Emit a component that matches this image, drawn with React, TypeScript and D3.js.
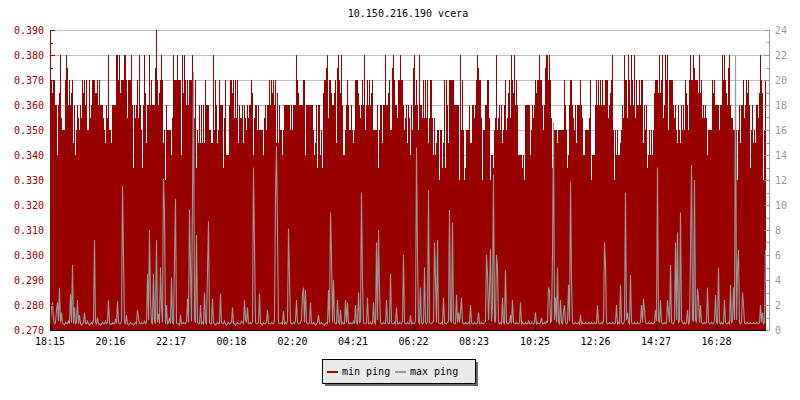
import React, { useMemo } from "react";
import * as d3 from "d3";

const TITLE = "10.150.216.190 vcera";
const SERIES_NAMES = ["min ping", "max ping"];
const SERIES_COLORS = ["#990000", "#999999"];
const START_TIME = "18:15";
const STEP_MINUTES = 2;
const TIME_LABELS = ["18:15", "20:16", "22:17", "00:18", "02:20", "04:21", "06:22", "08:23", "10:25", "12:26", "14:27", "16:28"];
const LEFT_TICKS = [0.27, 0.28, 0.29, 0.3, 0.31, 0.32, 0.33, 0.34, 0.35, 0.36, 0.37, 0.38, 0.39];
const RIGHT_TICKS = [0, 2, 4, 6, 8, 10, 12, 14, 16, 18, 20, 22, 24];

const minPing = [
  0.350,0.370,0.365,0.370,0.370,0.360,0.360,0.340,0.360,0.365,
  0.380,0.355,0.350,0.350,0.350,0.370,0.380,0.375,0.360,0.370,
  0.360,0.365,0.370,0.345,0.360,0.340,0.350,0.360,0.355,0.350,
  0.360,0.355,0.370,0.365,0.370,0.360,0.370,0.350,0.350,0.370,
  0.355,0.360,0.370,0.370,0.370,0.365,0.365,0.370,0.360,0.370,
  0.360,0.360,0.360,0.355,0.350,0.345,0.360,0.355,0.380,0.350,
  0.350,0.345,0.360,0.360,0.360,0.360,0.380,0.380,0.370,0.380,
  0.365,0.370,0.370,0.370,0.380,0.380,0.370,0.355,0.370,0.370,
  0.370,0.380,0.360,0.335,0.360,0.355,0.360,0.370,0.355,0.380,
  0.360,0.350,0.335,0.360,0.380,0.365,0.345,0.360,0.360,0.380,
  0.360,0.370,0.360,0.360,0.360,0.375,0.390,0.370,0.360,0.365,
  0.370,0.380,0.370,0.345,0.350,0.330,0.360,0.350,0.350,0.350,

  0.350,0.340,0.355,0.380,0.370,0.370,0.370,0.380,0.370,0.370,
  0.370,0.340,0.380,0.365,0.380,0.370,0.360,0.370,0.360,0.370,
  0.370,0.370,0.380,0.355,0.355,0.370,0.335,0.350,0.345,0.360,
  0.345,0.360,0.345,0.360,0.345,0.370,0.360,0.360,0.360,0.350,
  0.350,0.345,0.345,0.380,0.350,0.370,0.360,0.345,0.350,0.370,
  0.360,0.360,0.360,0.335,0.355,0.370,0.340,0.340,0.340,0.360,
  0.370,0.370,0.365,0.370,0.355,0.370,0.355,0.370,0.345,0.360,
  0.355,0.355,0.360,0.345,0.360,0.355,0.350,0.360,0.355,0.360,
  0.360,0.370,0.365,0.340,0.355,0.360,0.360,0.350,0.360,0.350,
  0.350,0.350,0.350,0.340,0.355,0.360,0.350,0.360,0.360,0.370,
  0.360,0.370,0.365,0.370,0.360,0.370,0.345,0.365,0.345,0.360,
  0.350,0.350,0.340,0.350,0.360,0.360,0.360,0.360,0.360,0.360,

  0.350,0.360,0.350,0.360,0.360,0.360,0.380,0.370,0.365,0.360,
  0.360,0.360,0.360,0.370,0.370,0.340,0.360,0.360,0.360,0.360,
  0.360,0.360,0.360,0.350,0.340,0.345,0.360,0.335,0.360,0.360,
  0.340,0.350,0.335,0.365,0.370,0.370,0.375,0.380,0.355,0.370,
  0.370,0.365,0.360,0.360,0.365,0.370,0.345,0.375,0.380,0.370,
  0.365,0.380,0.360,0.340,0.340,0.350,0.360,0.370,0.360,0.350,
  0.350,0.360,0.350,0.345,0.350,0.370,0.370,0.370,0.365,0.360,
  0.355,0.360,0.370,0.360,0.380,0.350,0.360,0.370,0.360,0.370,
  0.360,0.365,0.370,0.350,0.350,0.350,0.350,0.360,0.335,0.350,
  0.360,0.360,0.345,0.360,0.360,0.380,0.360,0.360,0.365,0.370,
  0.350,0.350,0.375,0.380,0.370,0.360,0.360,0.355,0.370,0.370,
  0.380,0.370,0.370,0.360,0.350,0.355,0.360,0.345,0.360,0.355,

  0.340,0.360,0.350,0.375,0.380,0.360,0.370,0.360,0.350,0.380,
  0.360,0.360,0.355,0.370,0.355,0.370,0.355,0.370,0.345,0.355,
  0.370,0.370,0.355,0.340,0.355,0.340,0.345,0.350,0.350,0.330,
  0.350,0.350,0.335,0.345,0.370,0.335,0.370,0.360,0.345,0.370,
  0.370,0.370,0.370,0.370,0.360,0.360,0.360,0.360,0.360,0.330,
  0.380,0.350,0.370,0.350,0.330,0.335,0.350,0.350,0.350,0.360,
  0.345,0.345,0.360,0.360,0.355,0.360,0.370,0.380,0.375,0.370,
  0.370,0.355,0.330,0.350,0.350,0.360,0.360,0.370,0.370,0.355,
  0.330,0.340,0.340,0.335,0.350,0.355,0.380,0.350,0.355,0.360,
  0.350,0.360,0.345,0.350,0.360,0.370,0.350,0.355,0.365,0.370,
  0.355,0.380,0.370,0.365,0.380,0.360,0.370,0.360,0.340,0.340,
  0.340,0.340,0.335,0.340,0.330,0.360,0.360,0.360,0.360,0.360,

  0.340,0.350,0.360,0.355,0.360,0.370,0.365,0.370,0.370,0.380,
  0.370,0.370,0.360,0.350,0.360,0.375,0.380,0.380,0.370,0.380,
  0.370,0.355,0.335,0.340,0.350,0.350,0.350,0.345,0.350,0.350,
  0.350,0.350,0.350,0.350,0.370,0.360,0.350,0.335,0.340,0.360,
  0.370,0.370,0.360,0.355,0.350,0.360,0.345,0.360,0.360,0.360,
  0.370,0.360,0.355,0.340,0.340,0.350,0.350,0.350,0.350,0.355,
  0.370,0.330,0.340,0.340,0.340,0.360,0.370,0.360,0.370,0.360,
  0.370,0.360,0.370,0.360,0.360,0.370,0.370,0.370,0.355,0.360,
  0.365,0.370,0.380,0.350,0.330,0.350,0.340,0.350,0.340,0.340,
  0.345,0.350,0.360,0.355,0.380,0.370,0.370,0.355,0.380,0.370,
  0.360,0.380,0.370,0.360,0.380,0.355,0.370,0.360,0.360,0.370,
  0.360,0.370,0.370,0.345,0.360,0.350,0.360,0.335,0.340,0.350,

  0.340,0.350,0.340,0.350,0.365,0.370,0.370,0.370,0.365,0.380,
  0.365,0.370,0.380,0.355,0.360,0.380,0.370,0.380,0.350,0.370,
  0.370,0.370,0.370,0.360,0.355,0.360,0.350,0.345,0.360,0.350,
  0.345,0.360,0.350,0.360,0.350,0.370,0.365,0.360,0.350,0.370,
  0.380,0.370,0.370,0.380,0.375,0.370,0.370,0.370,0.365,0.380,
  0.365,0.370,0.355,0.360,0.355,0.360,0.355,0.340,0.350,0.350,
  0.350,0.350,0.370,0.365,0.370,0.360,0.360,0.360,0.360,0.350,
  0.360,0.360,0.380,0.370,0.380,0.370,0.365,0.360,0.375,0.380,
  0.360,0.355,0.355,0.350,0.350,0.350,0.350,0.330,0.350,0.360,
  0.345,0.360,0.360,0.370,0.355,0.360,0.370,0.365,0.370,0.360,
  0.335,0.350,0.360,0.345,0.350,0.345,0.360,0.360,0.355,0.365,
  0.380,0.370,0.365,0.330,0.350,0.370,
];

const maxPing = [
  0.6,1.8,2.2,0.9,0.5,0.6,1.6,2.2,0.7,3.4,
  0.6,1.4,0.5,0.5,0.4,0.6,0.5,0.5,0.7,0.5,
  2.9,0.6,5.2,0.5,1.8,0.5,0.6,2.4,0.5,1.2,
  0.5,0.4,0.5,0.6,1.4,0.5,0.5,0.7,0.5,0.4,
  0.5,0.6,0.5,0.8,7.2,0.6,0.5,1.0,0.5,0.5,
  0.4,0.5,0.6,0.5,0.5,0.7,0.5,0.6,2.4,0.5,
  0.5,0.4,0.6,0.5,0.5,0.9,0.5,2.3,0.6,0.5,
  0.5,0.7,11.5,6.0,0.6,0.5,1.2,0.5,0.4,0.5,
  0.6,0.5,0.5,0.4,0.5,0.6,0.5,1.6,1.0,0.5,
  0.5,0.6,0.5,0.5,0.7,0.5,0.6,4.5,0.8,8.0,
  2.4,0.6,0.5,4.5,0.7,0.5,7.2,0.6,1.3,0.5,
  5.0,1.9,0.6,12.1,9.6,0.5,2.0,0.5,0.6,1.0,
  0.5,4.2,0.6,0.5,5.6,10.5,0.6,0.5,0.5,0.4,
  1.2,0.5,0.5,0.6,0.5,0.5,0.7,2.5,0.6,9.6,
  5.0,0.7,10.6,20.6,0.8,0.6,7.6,0.6,0.5,0.5,
  2.0,0.5,0.6,0.5,3.0,0.6,0.5,4.6,8.7,0.6,
  0.5,0.5,2.5,0.6,0.5,0.4,0.5,0.6,0.5,0.5,
  2.9,0.6,0.5,0.5,0.7,0.5,0.4,0.5,0.6,0.5,
  0.5,0.6,1.8,0.5,0.5,0.4,0.5,0.6,0.5,0.5,
  0.5,0.7,0.6,0.5,2.4,0.8,0.6,1.8,0.5,0.5,
  0.6,0.5,0.7,13.0,6.7,0.6,0.5,0.5,0.6,2.9,
  0.5,0.5,0.4,0.6,0.5,0.5,0.6,1.6,0.5,0.5,
  0.5,0.6,0.5,0.5,0.8,10.8,14.7,7.6,0.6,0.5,
  0.5,0.6,0.5,1.5,0.5,0.6,0.5,0.7,8.1,4.2,
  0.6,0.5,0.5,0.6,0.5,0.7,2.4,0.6,0.5,0.5,
  0.6,0.8,2.9,3.4,0.6,3.2,0.6,0.5,0.5,0.6,
  2.2,0.5,0.5,0.6,0.5,0.4,0.5,0.6,1.2,0.5,
  0.5,0.6,0.5,0.5,0.4,0.5,0.6,0.5,3.2,0.6,
  9.4,6.0,0.6,4.0,0.6,0.5,0.5,2.4,0.6,0.5,
  1.6,0.5,0.6,0.5,0.5,2.4,0.6,2.2,0.5,0.5,
  0.6,0.5,0.5,0.7,0.5,2.0,0.6,0.5,3.0,0.6,
  0.7,11.0,4.0,0.6,0.5,0.5,0.6,2.6,0.5,0.5,
  0.6,0.5,0.5,2.2,0.6,0.5,7.0,0.8,8.0,3.5,
  0.6,0.5,0.5,0.6,0.5,0.5,2.4,0.6,0.5,0.5,
  4.5,0.6,0.5,0.5,0.6,0.5,1.8,0.5,0.5,0.6,
  0.5,0.5,0.7,6.0,0.6,0.5,0.5,0.6,0.5,0.5,
  1.2,0.5,0.6,0.5,0.5,0.7,14.6,6.0,0.6,0.5,
  3.4,0.6,0.5,0.6,5.0,0.6,0.5,0.7,11.2,0.6,
  0.5,0.5,0.6,0.7,7.0,4.0,0.6,7.2,0.6,0.5,
  0.5,0.6,0.5,2.6,0.6,0.5,0.5,0.6,0.7,9.6,
  0.8,0.6,8.6,0.6,0.5,0.5,2.8,0.6,1.4,0.6,
  1.4,2.6,0.6,0.5,0.5,0.6,0.5,0.5,0.6,0.5,
  2.0,0.6,0.5,0.5,0.6,0.5,0.5,0.6,1.4,0.5,
  0.5,0.6,0.5,0.5,0.6,0.7,6.0,4.5,0.8,3.1,
  6.5,0.7,2.0,12.4,0.8,0.6,6.0,5.0,0.6,0.5,
  0.6,0.5,2.6,0.6,0.5,4.8,0.6,0.5,0.5,0.6,
  1.2,0.5,2.4,0.6,0.5,0.5,0.6,0.5,0.5,0.6,
  2.2,0.5,0.6,0.5,0.5,0.6,0.5,0.5,0.7,0.5,
  0.5,0.6,0.5,0.5,0.6,1.4,0.5,0.6,0.5,0.5,
  0.6,1.0,0.5,0.5,0.6,0.5,0.7,0.6,3.4,3.2,
  0.6,0.7,6.0,16.6,0.8,2.6,0.6,5.0,0.6,0.5,
  2.4,0.6,0.5,1.4,2.0,0.6,0.5,0.6,3.6,0.7,
  11.8,4.0,0.6,0.5,0.5,0.6,0.5,0.5,0.6,0.5,
  1.2,0.5,0.6,0.5,0.5,0.6,0.5,0.5,0.6,0.5,
  0.5,0.6,0.5,0.5,0.6,0.5,0.5,2.0,0.6,0.5,
  0.5,0.6,0.5,0.7,7.0,5.2,0.6,0.5,0.5,0.6,
  0.5,0.5,0.6,0.5,0.5,0.6,2.0,0.5,0.6,0.5,
  3.6,0.6,0.5,0.5,0.7,11.0,0.8,1.4,0.6,0.5,
  4.4,0.6,0.5,0.5,0.6,0.5,0.5,0.6,0.5,0.5,
  0.6,2.0,0.6,2.5,1.6,0.6,0.5,0.5,0.6,0.5,
  0.5,0.6,0.5,0.5,0.6,1.6,0.7,13.0,0.8,0.6,
  2.4,0.6,0.5,0.5,0.6,0.5,0.5,2.4,1.4,0.6,
  5.2,0.6,0.5,0.5,0.7,7.0,0.8,7.8,0.6,0.7,
  9.4,0.8,0.6,0.5,0.6,0.5,0.6,1.6,0.5,0.6,
  6.4,13.2,0.8,0.7,12.0,0.8,0.6,3.3,2.5,0.6,
  2.0,0.6,0.5,0.5,0.6,0.5,0.6,3.4,0.6,0.5,
  0.5,0.6,0.5,0.5,0.7,2.8,0.6,0.5,5.0,0.6,
  0.5,0.6,0.5,0.5,2.4,0.6,0.5,0.5,0.6,0.5,
  3.6,0.6,0.7,3.4,0.8,22.0,0.8,5.0,6.4,0.6,
  0.5,0.6,3.0,2.0,0.6,0.5,0.5,0.6,0.5,0.5,
  0.6,0.5,0.5,0.6,0.5,0.5,0.6,0.5,0.5,0.6,
  2.0,0.6,1.4,0.5,0.6,6.4,
];

const FONT = "'DejaVu Sans Mono', monospace";

function parseHM(s: string) {
  const [h, m] = s.split(":").map(Number);
  return h * 60 + m;
}

export default function App() {
  const W = 800, H = 400;
  const left = 50, right = 766, top = 30, bottom = 330, axisR = 769.5;

  const { t0, tEnd, times, tickTimes } = useMemo(() => {
    const base = new Date(2000, 0, 1, 0, 0, 0).getTime();
    const startMin = parseHM(START_TIME);
    const t0 = new Date(base + startMin * 60000);
    const times = minPing.map((_, i) => new Date(t0.getTime() + i * STEP_MINUTES * 60000));
    const tEnd = new Date(t0.getTime() + minPing.length * STEP_MINUTES * 60000);
    let prev = -1, offset = 0;
    const tickTimes = TIME_LABELS.map((lab) => {
      let m = parseHM(lab);
      if (m + offset < prev) offset += 1440;
      m += offset;
      prev = m;
      return new Date(base + m * 60000);
    });
    return { t0, tEnd, times, tickTimes };
  }, []);

  const x = d3.scaleTime().domain([t0, tEnd]).range([left, right]);
  const yL = d3.scaleLinear().domain([0.27, 0.39]).range([bottom, top]);
  const yR = d3.scaleLinear().domain([0, 24]).range([bottom, top]);

  const areaPts = minPing.map((v, i) => ({ t: times[i], v }));
  areaPts.push({ t: tEnd, v: minPing[minPing.length - 1] });
  const areaGen = d3
    .area<{ t: Date; v: number }>()
    .x((d) => x(d.t))
    .y0(bottom)
    .y1((d) => yL(d.v))
    .curve(d3.curveStepAfter);

  const lineGen = d3
    .line<number>()
    .x((_, i) => x(times[i]) + 0.5)
    .y((d) => yR(d));

  const leftMinor = d3.range(0.275, 0.39, 0.01);
  const rightMinor = d3.range(1, 24, 2);

  return (
    <svg width={W} height={H} style={{ display: "block", position: "absolute", left: 0, top: 0, background: "#fff" }}>
      <rect x={0} y={0} width={W} height={H} fill="#ffffff" />
      <text x={408} y={17} textAnchor="middle" fontFamily={FONT} fontSize={10} fill="#000">
        {TITLE}
      </text>
      {/* grid */}
      {LEFT_TICKS.map((t) => (
        <line key={"g" + t} x1={left} x2={axisR} y1={Math.round(yL(t)) + 0.5} y2={Math.round(yL(t)) + 0.5} stroke="#c0c0c0" strokeWidth={1} />
      ))}
      {/* min ping area */}
      <path d={areaGen(areaPts) || ""} fill={SERIES_COLORS[0]} shapeRendering="crispEdges" />
      {/* max ping line */}
      <path d={lineGen(maxPing) || ""} fill="none" stroke={SERIES_COLORS[1]} strokeWidth={1.1} strokeLinejoin="miter" />
      {/* left axis */}
      <line x1={left + 0.5} x2={left + 0.5} y1={top} y2={bottom} stroke="#990000" />
      {LEFT_TICKS.map((t) => (
        <g key={"l" + t}>
          <line x1={left} x2={left + 5} y1={Math.round(yL(t)) + 0.5} y2={Math.round(yL(t)) + 0.5} stroke="#990000" />
          <text x={44} y={yL(t) + 3.5} textAnchor="end" fontFamily={FONT} fontSize={10} fill="#990000">
            {d3.format(".3f")(t)}
          </text>
        </g>
      ))}
      {leftMinor.map((t) => (
        <line key={"lm" + t} x1={left} x2={left + 3} y1={Math.round(yL(t)) + 0.5} y2={Math.round(yL(t)) + 0.5} stroke="#990000" />
      ))}
      {/* right axis */}
      <line x1={axisR} x2={axisR} y1={top} y2={bottom} stroke="#999999" />
      {RIGHT_TICKS.map((t) => (
        <g key={"r" + t}>
          <line x1={axisR - 5} x2={axisR} y1={Math.round(yR(t)) + 0.5} y2={Math.round(yR(t)) + 0.5} stroke="#999999" />
          <text x={775} y={yR(t) + 3.5} textAnchor="start" fontFamily={FONT} fontSize={10} fill="#999999">
            {t}
          </text>
        </g>
      ))}
      {rightMinor.map((t) => (
        <line key={"rm" + t} x1={axisR - 3} x2={axisR} y1={Math.round(yR(t)) + 0.5} y2={Math.round(yR(t)) + 0.5} stroke="#999999" />
      ))}
      {/* bottom axis */}
      <line x1={left} x2={right} y1={bottom + 0.5} y2={bottom + 0.5} stroke="#000" />
      {tickTimes.map((t, i) => (
        <g key={"b" + i}>
          <line x1={Math.round(x(t)) + 0.5} x2={Math.round(x(t)) + 0.5} y1={bottom - 5} y2={bottom} stroke="#000" />
          <text x={x(t)} y={345} textAnchor="middle" fontFamily={FONT} fontSize={10} fill="#000">
            {TIME_LABELS[i]}
          </text>
        </g>
      ))}
      {/* legend */}
      <rect x={325} y={362} width={153} height={24} fill="#666666" />
      <rect x={322.5} y={359.5} width={153} height={24} fill="#e9e9e9" stroke="#000" strokeWidth={1} />
      <line x1={327} x2={338} y1={372} y2={372} stroke={SERIES_COLORS[0]} strokeWidth={2} />
      <text x={342} y={375} fontFamily={FONT} fontSize={10} fill="#000">{SERIES_NAMES[0]}</text>
      <line x1={395} x2={406} y1={372} y2={372} stroke={SERIES_COLORS[1]} strokeWidth={2} />
      <text x={410} y={375} fontFamily={FONT} fontSize={10} fill="#000">{SERIES_NAMES[1]}</text>
    </svg>
  );
}
